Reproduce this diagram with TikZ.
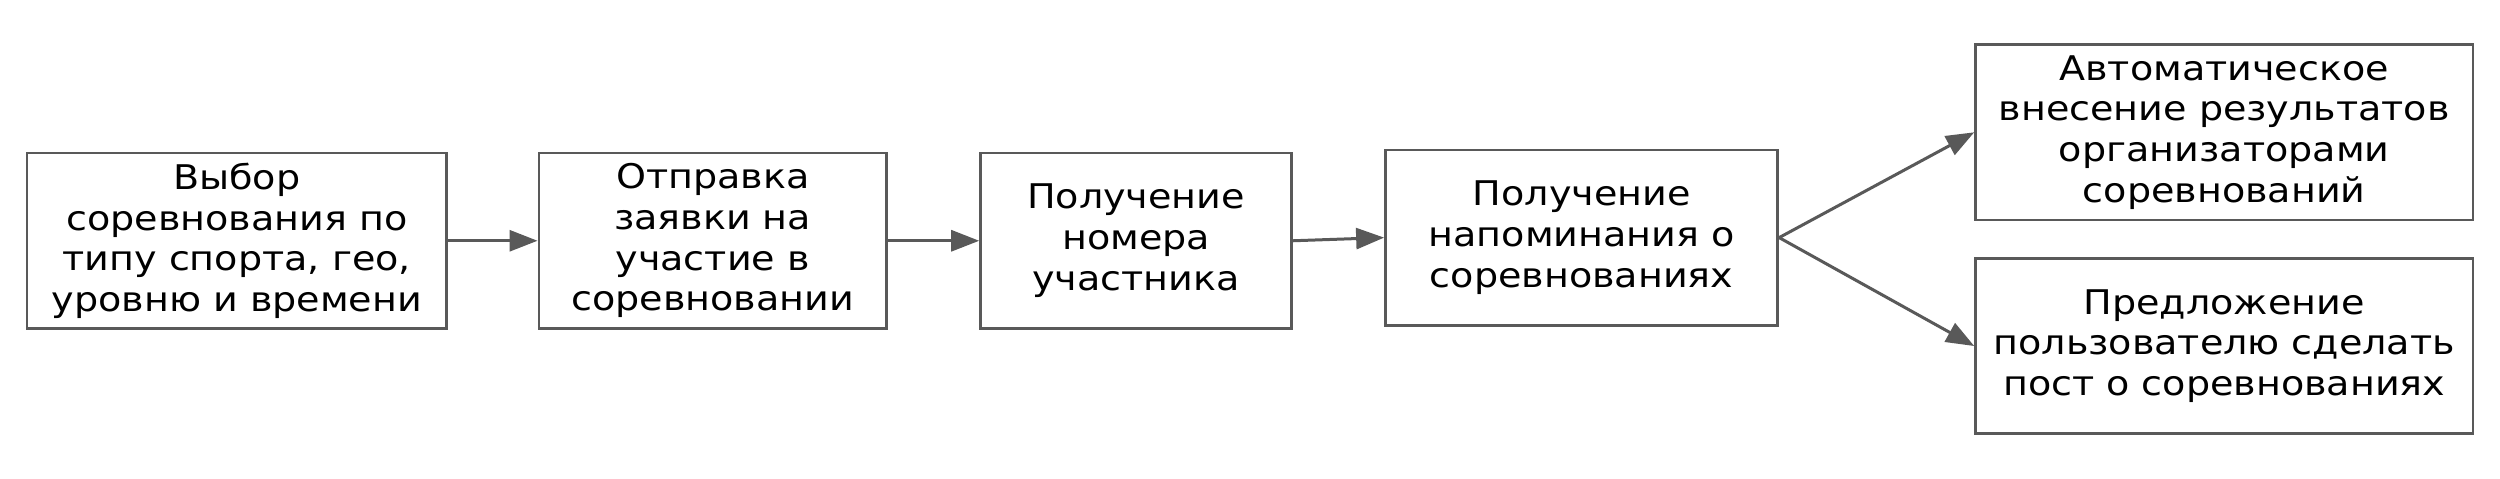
\documentclass[tikz,border=0pt]{standalone}
\usepackage{fontspec}
\setmainfont[FakeStretch=1.12]{DejaVu Sans}
\usetikzlibrary{arrows.meta}
\definecolor{edgegray}{HTML}{595959}
\begin{document}
\begin{tikzpicture}[x=0.3pt,y=-0.3pt,
  box/.style={draw=edgegray, line width=0.8pt, inner sep=0pt, align=center,
    minimum height=52.6pt, font=\fontsize{10.2}{12.2}\selectfont},
  conn/.style={draw=edgegray, line width=0.9pt, -{Triangle[length=8.4pt,width=6.3pt]}}]
\useasboundingbox (0,0) rectangle (2500,478);
\node[box, minimum width=125.8pt] (b1) at (236.75,240.75) {Выбор\\соревнования по\\типу спорта, гео,\\уровню и времени};
\node[box, minimum width=104.3pt] (b2) at (712.7,240.75) {Отправка\\заявки на\\участие в\\соревновании};
\node[box, minimum width=93.3pt] (b3) at (1136.05,240.75) {Получение\\номера\\участника};
\node[box, minimum width=117.7pt] (b4) at (1581.65,237.6) {Получение\\напоминания о\\соревнованиях};
\node[box, minimum width=149.2pt] (b5) at (2224.2,132.3) {Автоматическое\\внесение результатов\\организаторами\\соревнований};
\node[box, minimum width=149.2pt] (b6) at (2224.2,346.0) {Предложение\\пользователю сделать\\пост о соревнованиях};
\draw[conn] (b1.east) -- (b2.west);
\draw[conn] (b2.east) -- (b3.west);
\draw[conn] (b3.east) -- (b4.west);
\draw[conn] (b4.east) -- (b5.west);
\draw[conn] (b4.east) -- (b6.west);
\end{tikzpicture}
\end{document}
